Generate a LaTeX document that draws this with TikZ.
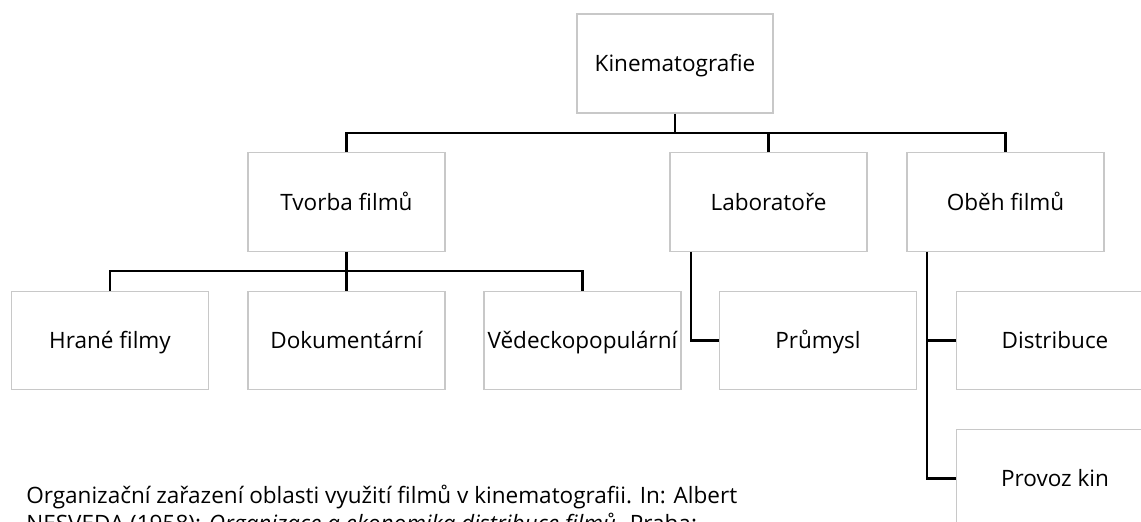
\documentclass[tikz,border=0pt]{standalone}
\usepackage{fontspec}
\setmainfont{Open Sans}
\begin{document}
\begin{tikzpicture}[x=0.75pt,y=-0.75pt,
  box/.style={draw=boxgray,line width=0.9pt,fill=white,inner sep=0pt,
    minimum width=197*0.75pt,minimum height=98.5*0.75pt,
    text height=12.1pt,text depth=0pt,
    font=\fontsize{16.9}{20}\selectfont,text=black},
  conn/.style={draw=black,line width=1.8pt,line join=miter},
  captext/.style={inner sep=0pt,anchor=base west,font=\fontsize{16.9}{21}\selectfont,text=black}]
\definecolor{boxgray}{HTML}{C8C8C8}
\useasboundingbox (0,0) rectangle (1141,521);
\fill[white] (0,0) rectangle (1141,521);

\coordinate (b1) at (0,133);
\coordinate (b2) at (0,271);
\coordinate (la) at (691,0);
\coordinate (ob) at (927,0);

\node[box,minimum width=196*0.75pt,minimum height=99*0.75pt] (kin) at (675,63.5) {Kinematografie};
\node[box] (tvorba) at (346.5,202) {Tvorba filmů};
\node[box] (lab) at (768.5,202) {Laboratoře};
\node[box] (obeh) at (1005.5,202) {Oběh filmů};
\node[box] (hrane) at (110,340.5) {Hrané filmy};
\node[box] (dok) at (346.5,340.5) {Dokumentární};
\node[box] (ved) at (582.5,340.5) {Vědeckopopulární};
\node[box] (prum) at (818,340.5) {Průmysl};
\node[box] (dist) at (1055,340.5) {Distribuce};
\node[box] (provoz) at (1055,478.5) {Provoz kin};

\draw[conn] (kin.south) -- (kin.south |- b1);
\draw[conn] (tvorba.north) -- (tvorba.north |- b1) -- (obeh.north |- b1) -- (obeh.north);
\draw[conn] (lab.north) -- (lab.north |- b1);

\draw[conn] (tvorba.south) -- (dok.north);
\draw[conn] (hrane.north) -- (hrane.north |- b2) -- (ved.north |- b2) -- (ved.north);

\draw[conn] (lab.south -| la) |- (prum.west);
\draw[conn] (obeh.south -| ob) |- (provoz.west);
\draw[conn] (dist.west) -- (dist.west -| ob);

\node[captext] (cap1) at (26,503) {Organizační zařazení oblasti využití filmů v kinematografii. In: Albert};
\node[captext] (cap2) at (26,531) {NESVEDA (1958): \textit{Organizace a ekonomika distribuce filmů}. Praha:};
\end{tikzpicture}
\end{document}
